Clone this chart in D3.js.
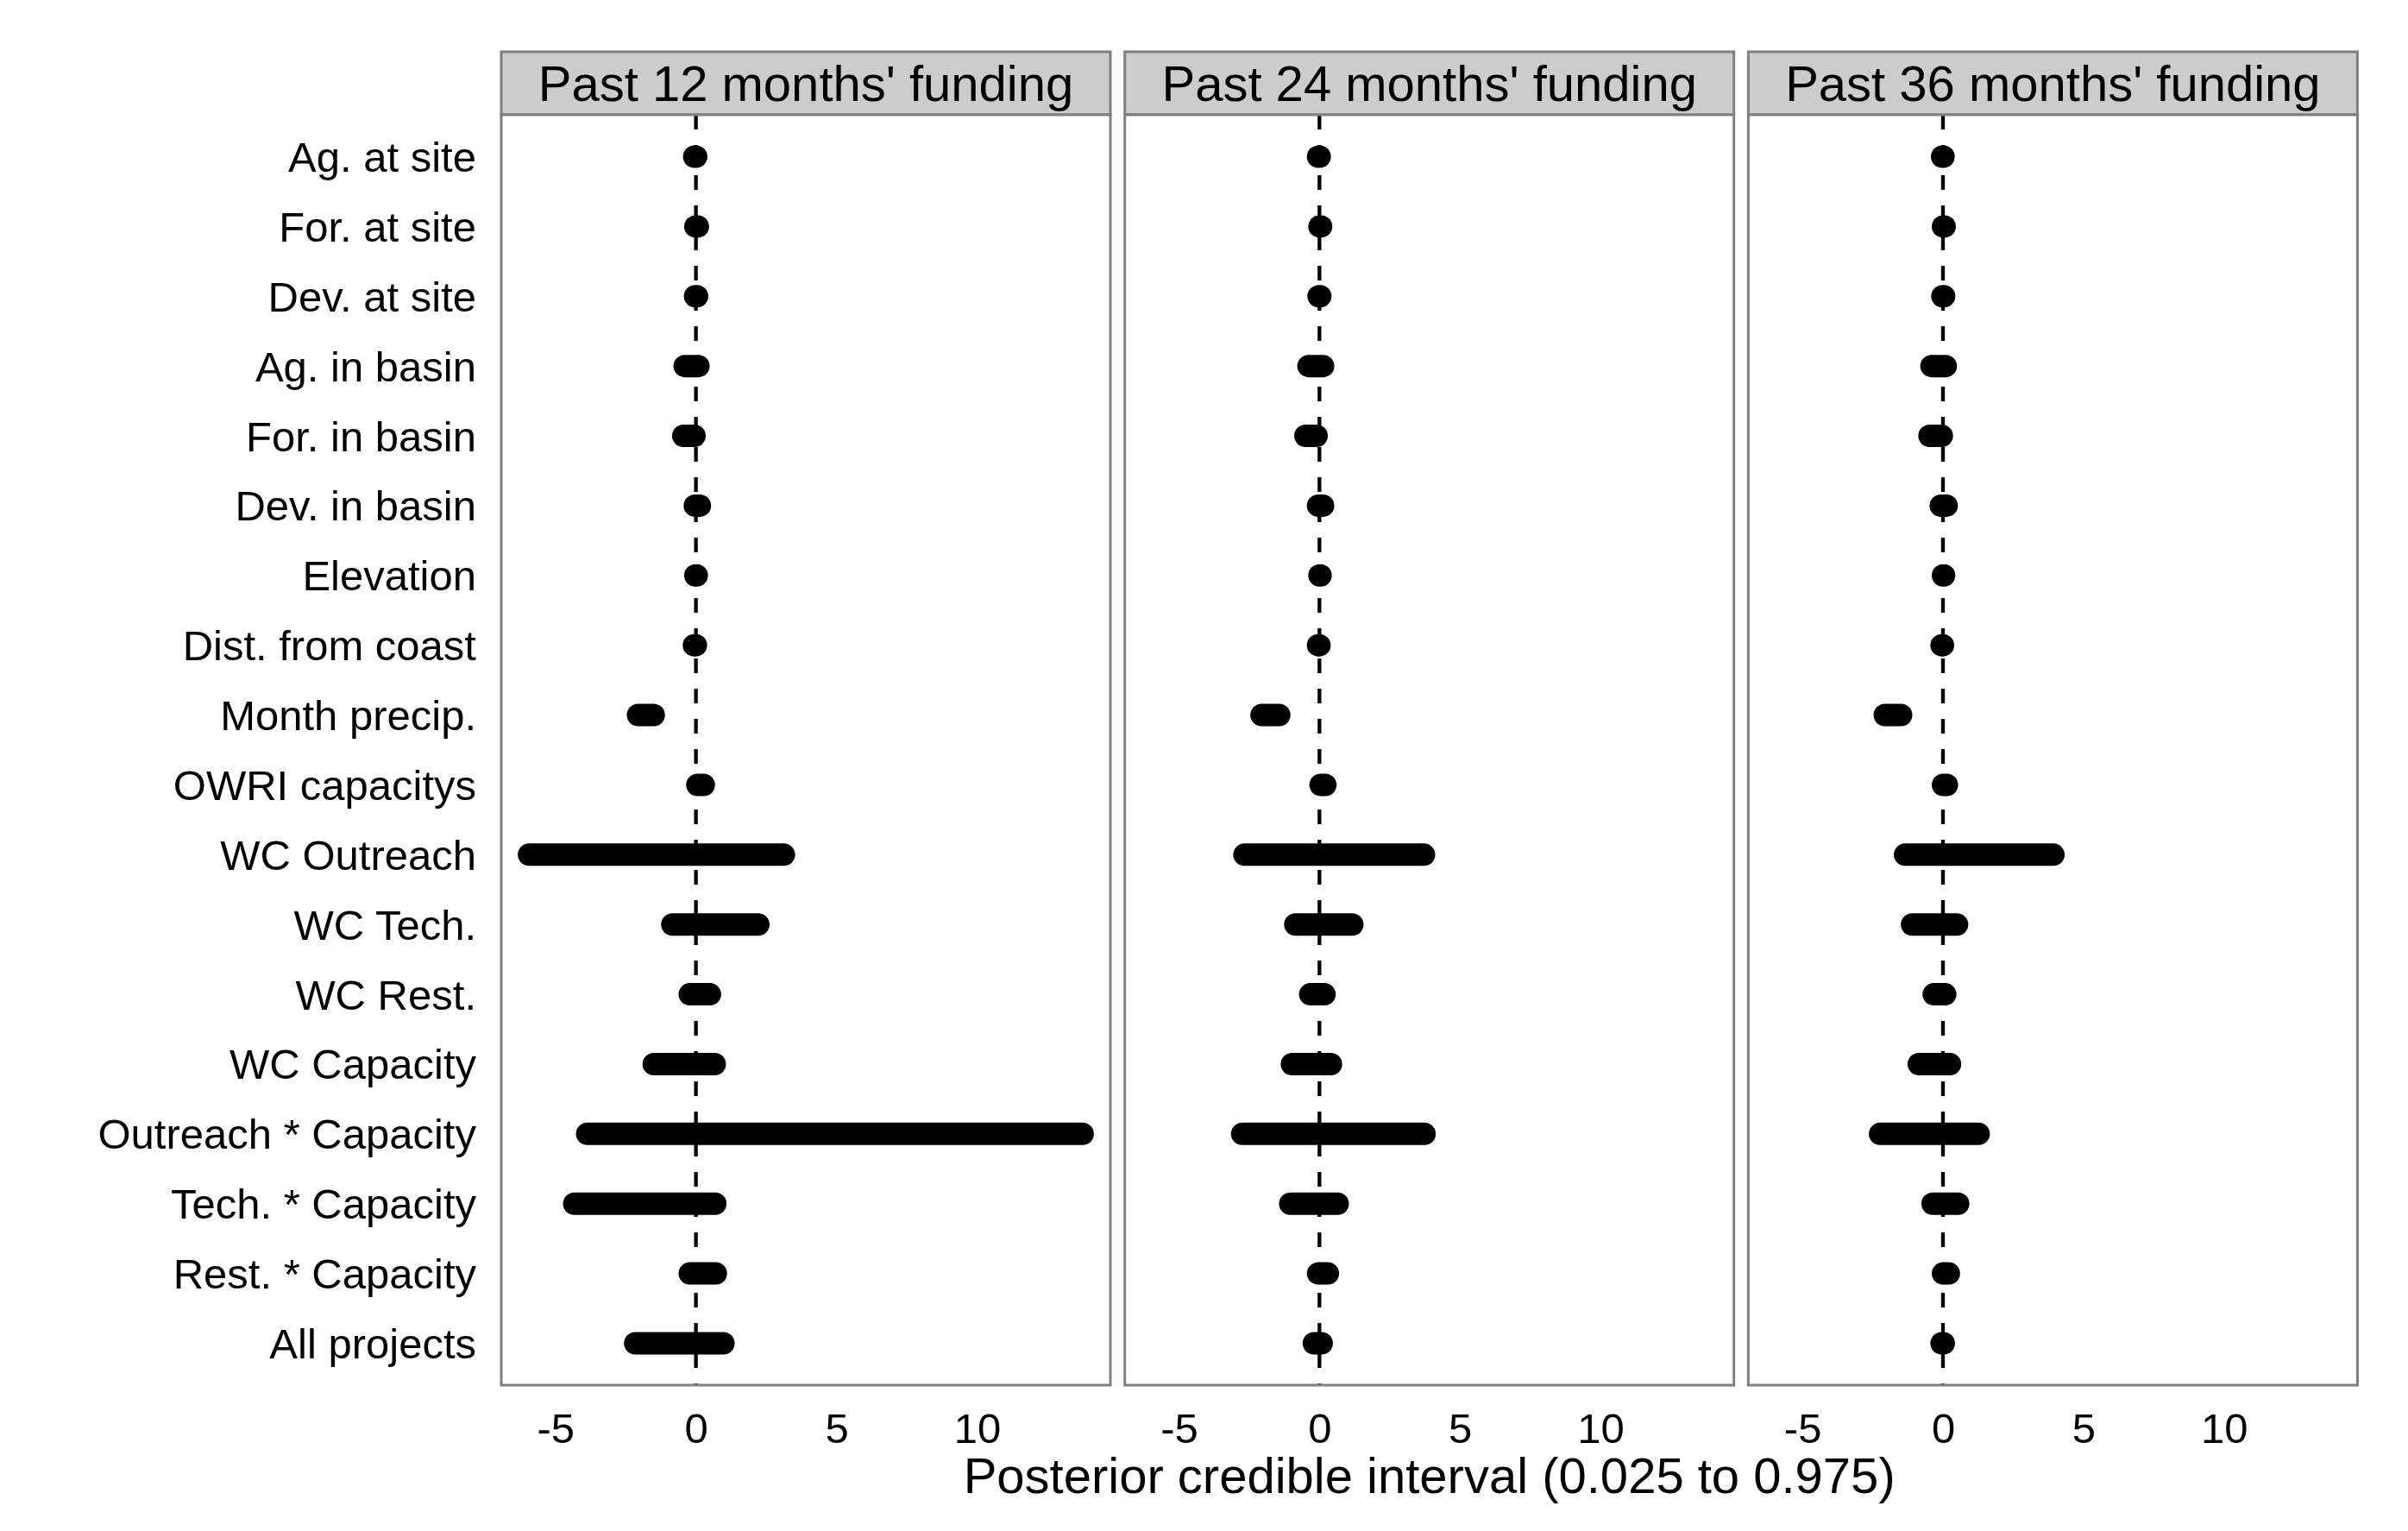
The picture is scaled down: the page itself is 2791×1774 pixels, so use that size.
<!DOCTYPE html>
<html>
<head>
<meta charset="utf-8">
<script src="https://cdn.jsdelivr.net/npm/d3@7"></script>
<style>
  body { margin: 0; background: #fff; }
  text { font-family: "Liberation Sans", Arial, Helvetica, sans-serif; fill: #000; }
</style>
</head>
<body>
<svg id="chart" width="2791" height="1774"></svg>
<script>
// row labels, top to bottom
const categories = ["Ag. at site", "For. at site", "Dev. at site", "Ag. in basin", "For. in basin",
  "Dev. in basin", "Elevation", "Dist. from coast", "Month precip.", "OWRI capacitys",
  "WC Outreach", "WC Tech.", "WC Rest.", "WC Capacity", "Outreach * Capacity",
  "Tech. * Capacity", "Rest. * Capacity", "All projects"];

const panelTitles = ["Past 12 months' funding", "Past 24 months' funding", "Past 36 months' funding"];

// credible interval ends (0.025 / 0.975), one pair of arrays per panel
const lower12 = [-0.06, -0.02, -0.03, -0.40, -0.45, -0.04, -0.02, -0.07, -2.06, 0.05,
  -5.94, -0.84, -0.22, -1.50, -3.87, -4.33, -0.22, -2.16];
const upper12 = [0.01, 0.07, 0.04, 0.09, -0.05, 0.14, 0.03, 0.00, -1.50, 0.28,
  3.13, 2.22, 0.50, 0.67, 13.76, 0.69, 0.71, 0.98];

const lower24 = [-0.05, 0.00, -0.03, -0.39, -0.50, -0.05, 0.00, -0.05, -2.06, 0.04,
  -2.67, -0.86, -0.33, -0.98, -2.75, -1.04, -0.05, -0.20];
const upper24 = [0.01, 0.06, 0.03, 0.13, -0.10, 0.13, 0.04, 0.00, -1.43, 0.21,
  3.72, 1.17, 0.18, 0.41, 3.74, 0.65, 0.30, 0.08];

const lower36 = [-0.03, 0.00, -0.02, -0.41, -0.48, -0.08, 0.00, -0.05, -2.07, 0.00,
  -1.35, -1.10, -0.33, -0.86, -2.24, -0.37, 0.00, -0.05];
const upper36 = [0.02, 0.06, 0.04, 0.10, -0.04, 0.13, 0.04, 0.00, -1.49, 0.14,
  3.93, 0.50, 0.08, 0.25, 1.27, 0.54, 0.21, 0.03];

const xTicks = [-5, 0, 5, 10];
const xTitle = "Posterior credible interval (0.025 to 0.975)";

const panels = [
  {title: panelTitles[0], lo: lower12, hi: upper12},
  {title: panelTitles[1], lo: lower24, hi: upper24},
  {title: panelTitles[2], lo: lower36, hi: upper36}
];

// layout
const panelX0 = 581, panelW = 706, panelGap = 16.7;
const stripTop = 60, panelTop = 133, panelBottom = 1605;
const border = "#7f7f7f";

const svg = d3.select("#chart");

// shared x scale: data range expanded 5% each side (like ggplot)
const allVals = lower12.concat(upper12, lower24, upper24, lower36, upper36);
const ext = d3.extent(allVals);
const pad = (ext[1] - ext[0]) * 0.05;
const x = d3.scaleLinear().domain([ext[0] - pad, ext[1] + pad]).range([0, panelW]);

const y = d3.scalePoint().domain(categories).range([panelTop, panelBottom]).padding(0.6);

// y labels
svg.append("g")
  .selectAll("text")
  .data(categories)
  .enter().append("text")
    .attr("x", 552)
    .attr("y", d => y(d) + 17.5)
    .attr("text-anchor", "end")
    .style("font-size", "49px")
    .text(d => d);

panels.forEach((p, pi) => {
  const left = panelX0 + pi * (panelW + panelGap);
  const g = svg.append("g").attr("transform", "translate(" + left + ",0)");

  // strip
  g.append("rect")
    .attr("x", 0).attr("y", stripTop)
    .attr("width", panelW).attr("height", panelTop - stripTop)
    .attr("fill", "#cccccc").attr("stroke", border).attr("stroke-width", 3);
  g.append("text")
    .attr("x", panelW / 2).attr("y", 117)
    .attr("text-anchor", "middle")
    .style("font-size", "58px")
    .text(p.title);

  // panel background
  g.append("rect")
    .attr("x", 0).attr("y", panelTop)
    .attr("width", panelW).attr("height", panelBottom - panelTop)
    .attr("fill", "#fff");

  // zero line
  g.append("line")
    .attr("x1", x(0)).attr("x2", x(0))
    .attr("y1", panelTop).attr("y2", panelBottom)
    .attr("stroke", "#000").attr("stroke-width", 4.3)
    .attr("stroke-dasharray", "17,18");

  // intervals
  g.append("g")
    .selectAll("line")
    .data(categories)
    .enter().append("line")
      .attr("x1", (d, i) => x(p.lo[i]))
      .attr("x2", (d, i) => x(p.hi[i]))
      .attr("y1", d => y(d))
      .attr("y2", d => y(d))
      .attr("stroke", "#000")
      .attr("stroke-width", 26)
      .attr("stroke-linecap", "round");

  // panel border
  g.append("rect")
    .attr("x", 0).attr("y", panelTop)
    .attr("width", panelW).attr("height", panelBottom - panelTop)
    .attr("fill", "none").attr("stroke", border).attr("stroke-width", 3);

  // x axis labels (no tick marks)
  const axis = d3.axisBottom(x).tickValues(xTicks).tickSize(0).tickPadding(0)
    .tickFormat(d3.format("d"));
  const ax = g.append("g")
    .attr("transform", "translate(0," + panelBottom + ")")
    .call(axis);
  ax.select(".domain").remove();
  ax.selectAll("text")
    .attr("y", 67).attr("dy", null)
    .style("font-size", "49px")
    .style("font-family", "'Liberation Sans', Arial, Helvetica, sans-serif")
    .attr("fill", "#000")
    .text(d => d < 0 ? "-" + Math.abs(d) : d);
});

// x title
const lastLeft = panelX0 + 2 * (panelW + panelGap);
svg.append("text")
  .attr("x", (panelX0 + lastLeft + panelW) / 2)
  .attr("y", 1730)
  .attr("text-anchor", "middle")
  .style("font-size", "58px")
  .text(xTitle);
</script>
</body>
</html>
